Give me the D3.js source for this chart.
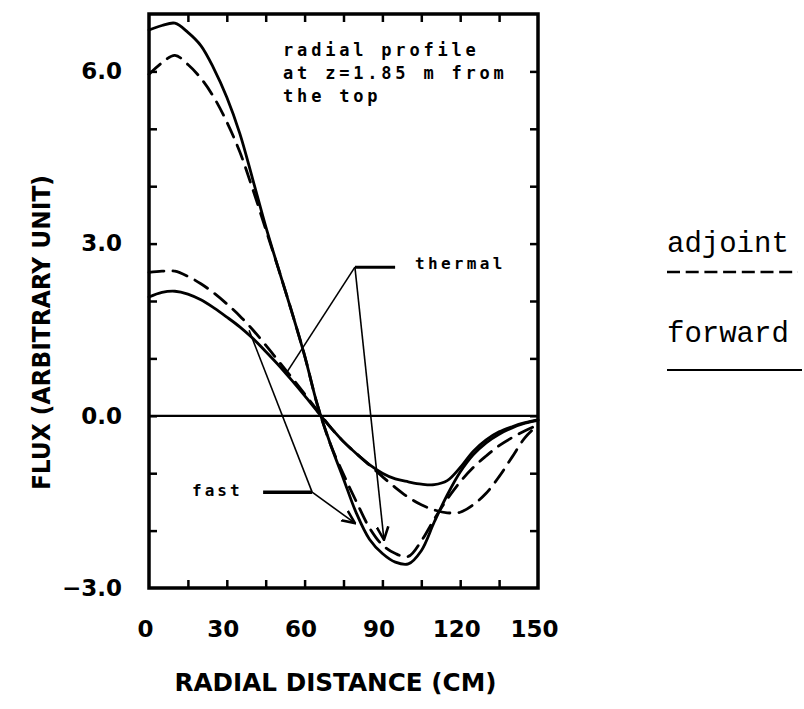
<!DOCTYPE html>
<html><head><meta charset="utf-8">
<script src="https://cdn.jsdelivr.net/npm/d3@7"></script>
<style>body{margin:0;background:#fff}</style>
</head><body>
<svg id="chart" width="804" height="709"></svg>
<script>
// ---- data (radial distance in cm, flux in arbitrary units) ----
const radius = [0,5,10,15,20,25,30,35,40,45,50,55,60,65,70,75,80,85,90,95,100,105,110,115,120,125,130,135,140,145,150];
const fastForward = [6.72,6.80,6.84,6.68,6.45,6.05,5.55,4.92,4.12,3.30,2.55,1.82,1.05,0.18,-0.50,-1.10,-1.70,-2.15,-2.40,-2.55,-2.58,-2.35,-1.85,-1.38,-0.98,-0.68,-0.47,-0.32,-0.21,-0.13,-0.08];
const fastAdjoint = [5.95,6.15,6.28,6.12,5.88,5.55,5.12,4.60,3.95,3.25,2.55,1.82,1.05,0.18,-0.50,-1.02,-1.50,-1.95,-2.25,-2.40,-2.45,-2.18,-1.80,-1.45,-1.15,-0.90,-0.70,-0.52,-0.38,-0.26,-0.16];
const thermalForward = [2.07,2.15,2.17,2.12,2.02,1.88,1.72,1.55,1.35,1.12,0.88,0.62,0.35,0.07,-0.20,-0.45,-0.66,-0.85,-1.00,-1.10,-1.15,-1.19,-1.20,-1.13,-0.90,-0.62,-0.42,-0.28,-0.19,-0.12,-0.07];
const thermalAdjoint = [2.50,2.52,2.52,2.43,2.30,2.14,1.95,1.74,1.50,1.23,0.95,0.67,0.38,0.09,-0.20,-0.45,-0.66,-0.86,-1.06,-1.25,-1.42,-1.55,-1.64,-1.69,-1.68,-1.55,-1.35,-1.06,-0.72,-0.38,-0.16];

const xLabelTicks = [0,30,60,90,120,150];
const xMinorTicks = [15,30,45,60,75,90,105,120,135];
const yLabelTicks = [-3,0,3,6];
const yMinorTicks = [-2,-1,0,1,2,3,4,5,6];
const xDomain = [0,150];
const yDomain = [-3,7];

const xTitle = "RADIAL DISTANCE (CM)";
const yTitle = "FLUX (ARBITRARY UNIT)";
const noteLines = ["radial profile","at z=1.85 m from","the top"];
const legendLabels = ["adjoint","forward"];

// annotation anchor points in data units [r, flux]
const thermalJoint = [79.4, 2.59];
const thermalBarEnd = [94.9, 2.59];
const thermalTargets = [[53.2, 0.76],[90.6,-2.16]];
const thermalTextPos = [102.6, 2.55];
const fastJoint = [62.9,-1.33];
const fastBarStart = [44.0,-1.33];
const fastTargets = [[38.6, 1.49],[79.4,-1.87]];
const fastTextPos = [16.6,-1.40];

// ---- drawing ----
const svg = d3.select("#chart");
const L = 149, R = 538, T = 14, B = 588;
const x = d3.scaleLinear().domain(xDomain).range([L,R]);
const y = d3.scaleLinear().domain(yDomain).range([B,T]);

const tickFont = "'DejaVu Sans', sans-serif";

// inward ticks on all four sides
function minor(g){ g.select(".domain").remove(); g.selectAll("line").attr("stroke","#000").attr("stroke-width",2.5); }
svg.append("g").attr("transform",`translate(0,${B})`)
  .call(d3.axisBottom(x).tickValues(xMinorTicks).tickSizeInner(-8).tickSizeOuter(0).tickFormat("")).call(minor);
svg.append("g").attr("transform",`translate(0,${T})`)
  .call(d3.axisTop(x).tickValues(xMinorTicks).tickSizeInner(-8).tickSizeOuter(0).tickFormat("")).call(minor);
svg.append("g").attr("transform",`translate(${L},0)`)
  .call(d3.axisLeft(y).tickValues(yMinorTicks).tickSizeInner(-8).tickSizeOuter(0).tickFormat("")).call(minor);
svg.append("g").attr("transform",`translate(${R},0)`)
  .call(d3.axisRight(y).tickValues(yMinorTicks).tickSizeInner(-8).tickSizeOuter(0).tickFormat("")).call(minor);

// tick labels
const xl = svg.append("g").attr("transform",`translate(-4,${B})`)
  .call(d3.axisBottom(x).tickValues(xLabelTicks).tickSize(0).tickFormat(d3.format("d")));
xl.select(".domain").remove();
xl.selectAll("text").attr("y",49).attr("dy","0")
  .attr("font-family",tickFont).attr("font-weight","bold").attr("font-size",23).attr("fill","#000");

const fmtY = d => (d<0?"\u2212":"") + Math.abs(d).toFixed(1);
const yl = svg.append("g").attr("transform",`translate(${L},0)`)
  .call(d3.axisLeft(y).tickValues(yLabelTicks).tickSize(0).tickPadding(27).tickFormat(fmtY));
yl.select(".domain").remove();
yl.selectAll("text").attr("font-family",tickFont).attr("font-weight","bold").attr("font-size",23).attr("fill","#000");

// axis titles
svg.append("text").attr("x",(L+R)/2-8).attr("y",691).attr("text-anchor","middle")
  .attr("font-family",tickFont).attr("font-weight","bold").attr("font-size",24)
  .attr("textLength",322).attr("lengthAdjust","spacingAndGlyphs").text(xTitle);
svg.append("text").attr("transform",`translate(50,${y(1.45)}) rotate(-90)`).attr("text-anchor","middle")
  .attr("font-family",tickFont).attr("font-weight","bold").attr("font-size",24)
  .attr("textLength",315).attr("lengthAdjust","spacingAndGlyphs").text(yTitle);

// zero line
svg.append("line").attr("x1",x(0)).attr("x2",x(150)).attr("y1",y(0)).attr("y2",y(0))
  .attr("stroke","#000").attr("stroke-width",2.2);

// curves
const line = d3.line().x((d,i)=>x(radius[i])).y(d=>y(d)).curve(d3.curveCatmullRom.alpha(0.5));
const series = [
  {vals: fastForward, dash: null},
  {vals: fastAdjoint, dash: "15,9"},
  {vals: thermalForward, dash: null},
  {vals: thermalAdjoint, dash: "15,9"}
];
svg.append("g").selectAll("path").data(series).join("path")
  .attr("d",d=>line(d.vals)).attr("fill","none").attr("stroke","#000")
  .attr("stroke-width",2.8).attr("stroke-linecap","round")
  .attr("stroke-dasharray",d=>d.dash);

// frame
svg.append("rect").attr("x",L).attr("y",T).attr("width",R-L).attr("height",B-T)
  .attr("fill","none").attr("stroke","#000").attr("stroke-width",3.5);

// annotations
const defs = svg.append("defs");
defs.append("marker").attr("id","arr").attr("viewBox","0 0 10 10").attr("refX",9).attr("refY",5)
  .attr("markerWidth",9).attr("markerHeight",9).attr("orient","auto-start-reverse")
  .append("path").attr("d","M0,1 L9,5 L0,9").attr("fill","none").attr("stroke","#000").attr("stroke-width",1.8);
const P = p => [x(p[0]), y(p[1])];
const ann = svg.append("g").attr("stroke","#000").attr("fill","none");
// thermal
ann.append("line").attr("x1",P(thermalJoint)[0]).attr("y1",P(thermalJoint)[1])
  .attr("x2",P(thermalBarEnd)[0]).attr("y2",P(thermalBarEnd)[1]).attr("stroke-width",3);
thermalTargets.forEach((t,i)=>{
  ann.append("line").attr("x1",P(thermalJoint)[0]).attr("y1",P(thermalJoint)[1])
    .attr("x2",P(t)[0]).attr("y2",P(t)[1]).attr("stroke-width",1.6)
    .attr("marker-end", i===1 ? "url(#arr)" : null);
});
// fast
ann.append("line").attr("x1",P(fastBarStart)[0]).attr("y1",P(fastBarStart)[1])
  .attr("x2",P(fastJoint)[0]).attr("y2",P(fastJoint)[1]).attr("stroke-width",3.5);
fastTargets.forEach((t,i)=>{
  ann.append("line").attr("x1",P(fastJoint)[0]).attr("y1",P(fastJoint)[1])
    .attr("x2",P(t)[0]).attr("y2",P(t)[1]).attr("stroke-width",1.6)
    .attr("marker-end", i===1 ? "url(#arr)" : null);
});

const monoFont = "'DejaVu Sans Mono', monospace";
svg.append("text").attr("x",P(thermalTextPos)[0]).attr("y",P(thermalTextPos)[1])
  .attr("font-family",monoFont).attr("font-weight","bold").attr("font-size",16)
  .attr("letter-spacing",3.3).text("thermal");
svg.append("text").attr("x",P(fastTextPos)[0]).attr("y",P(fastTextPos)[1])
  .attr("font-family",monoFont).attr("font-weight","bold").attr("font-size",16)
  .attr("letter-spacing",3).text("fast");

svg.append("g").selectAll("text").data(noteLines).join("text")
  .attr("x",x(51.7)).attr("y",(d,i)=>56+i*23)
  .attr("font-family",monoFont).attr("font-weight","bold").attr("font-size",17)
  .attr("letter-spacing",3.8).text(d=>d);

// legend
const legFont = "'Liberation Mono', 'Courier New', monospace";
const leg = svg.append("g");
leg.append("text").attr("x",667).attr("y",252).attr("font-family",legFont).attr("font-size",29).text(legendLabels[0]);
leg.append("line").attr("x1",667).attr("x2",798).attr("y1",272).attr("y2",272)
  .attr("stroke","#000").attr("stroke-width",2.5).attr("stroke-dasharray","13,5.7");
leg.append("text").attr("x",667).attr("y",342).attr("font-family",legFont).attr("font-size",29).text(legendLabels[1]);
leg.append("line").attr("x1",667).attr("x2",802).attr("y1",370).attr("y2",370)
  .attr("stroke","#000").attr("stroke-width",2.2);
</script>
</body></html>
